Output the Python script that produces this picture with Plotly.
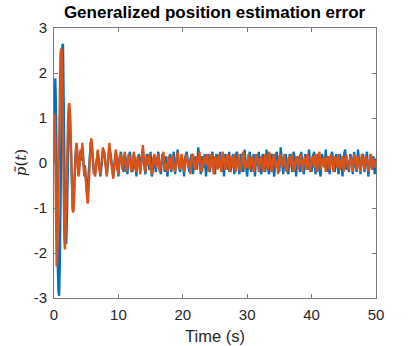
import numpy as np
import plotly.graph_objects as go

# sample times: fine grid for the transient, coarser for the steady noise
t_early = np.round(np.arange(0, 6.01, 0.1), 1)
t_late = np.round(np.arange(6.2, 50.01, 0.2), 1)

blue_early = [
    0.1, 1.4, 1.88, 1.3, -0.2, -1.5, -2.4, -2.85, -2.95, -2.3,
    -0.8, 0.9, 2.2, 2.6, 2.65, 1.8, 0.3, -1.0, -1.7, -1.8,
    -1.3, -0.4, 0.5, 1.0, 1.2, 1.05, 0.5, -0.2, -0.7, -1.0,
    -1.05, -0.8, -0.3, 0.1, 0.3, 0.4, 0.25, -0.05, -0.25, -0.15,
    0.15, 0.25, 0.05, 0.2, 0.35, 0.15, -0.15, -0.25, -0.05, -0.25,
    -0.5, -0.65, -0.6, -0.4, -0.1, 0.15, 0.35, 0.45, 0.5, 0.3,
    0.05,
]
orange_early = [
    0.0, 1.1, 0.3, -1.4, -2.3, -2.2, -1.3, 0.0, 1.2, 2.0,
    2.4, 2.55, 2.5, 1.6, 0.2, -1.0, -1.7, -1.92, -1.6, -0.8,
    0.1, 0.7, 1.1, 1.3, 1.33, 1.0, 0.4, -0.3, -0.8, -1.05,
    -1.1, -0.9, -0.4, 0.1, 0.35, 0.45, 0.3, -0.1, -0.3, -0.2,
    0.1, 0.3, 0.1, 0.25, 0.45, 0.2, -0.2, -0.3, -0.1, -0.3,
    -0.55, -0.8, -0.9, -0.85, -0.6, -0.2, 0.15, 0.45, 0.55, 0.4,
    0.1,
]

blue_late = [
    -0.25, -0.2, 0.05, 0.25, 0.0, -0.3, -0.05, 0.3, 0.25, -0.1,
    -0.25, 0.0, 0.35, 0.2, -0.15, -0.3, -0.05, 0.25, 0.05, -0.3,
    0.1, 0.25, -0.05, -0.2, 0.2, 0.05, -0.25, 0.15, 0.25, -0.1,
    -0.2, 0.2, 0.05, -0.3, 0.1, 0.2, -0.15, 0.05, 0.3, -0.05,
    -0.25, 0.2, 0.1, -0.15, 0.25, -0.3, 0.0, 0.15, -0.2, 0.1,
    0.25, -0.1, -0.25, 0.2, 0.1, -0.2, 0.15, -0.3, 0.05, 0.2,
    -0.2, 0.1, 0.25, -0.25, 0.0, 0.3, -0.1, -0.2, 0.15, 0.05,
    -0.3, 0.15, 0.25, -0.05, -0.2, 0.1, 0.2, -0.25, 0.05, 0.15,
    -0.15, 0.35, 0.05, -0.25, 0.15, -0.1, 0.2, -0.3, 0.1, 0.2,
    -0.2, 0.05, 0.25, -0.15, -0.25, 0.2, 0.1, -0.1, 0.25, -0.2,
    0.1, -0.3, 0.2, 0.0, -0.15, 0.25, -0.2, 0.05, 0.2, -0.25,
    0.15, 0.25, -0.1, -0.25, 0.2, 0.05, -0.2, 0.3, -0.05, -0.3,
    0.1, 0.25, -0.2, 0.05, 0.2, -0.3, 0.15, -0.05, 0.25, -0.15,
    -0.25, 0.2, 0.05, -0.2, 0.3, -0.1, -0.25, 0.15, 0.2, -0.05,
    -0.3, 0.15, 0.25, -0.1, -0.2, 0.35, 0.0, -0.25, 0.1, 0.2,
    -0.15, -0.25, 0.2, 0.05, -0.2, 0.25, 0.1, -0.3, 0.15, 0.05,
    -0.2, 0.25, -0.05, -0.25, 0.2, 0.1, -0.15, 0.3, -0.1, -0.2,
    0.15, 0.25, -0.25, 0.05, 0.2, -0.15, -0.3, 0.2, 0.05, -0.1,
    0.3, -0.2, 0.1, -0.25, 0.15, 0.25, -0.1, -0.2, 0.2, 0.0,
    -0.25, 0.2, 0.05, -0.3, 0.15, 0.3, -0.15, 0.05, -0.2, 0.2,
    0.1, -0.25, 0.25, -0.05, -0.2, 0.3, 0.05, -0.25, 0.15, 0.2,
    -0.2, 0.1, 0.25, -0.3, 0.0, 0.2, -0.15, 0.15, -0.25, 0.1,
]
orange_late = [
    -0.2, -0.3, 0.1, 0.3, -0.1, -0.25, 0.05, 0.35, 0.2, -0.15,
    -0.3, 0.1, 0.45, 0.1, -0.2, -0.35, 0.05, 0.3, -0.1, -0.25,
    0.15, 0.2, -0.15, 0.05, 0.25, -0.2, -0.1, 0.2, 0.05, -0.2,
    0.1, 0.25, -0.1, -0.2, 0.15, 0.0, -0.25, 0.1, 0.4, 0.05,
    -0.2, 0.15, -0.05, 0.2, -0.15, -0.25, 0.1, 0.2, -0.1, 0.05,
    0.2, -0.2, -0.05, 0.15, 0.25, -0.15, 0.0, -0.2, 0.15, 0.1,
    -0.15, 0.2, -0.1, -0.2, 0.1, 0.25, -0.05, -0.15, 0.2, 0.0,
    -0.2, 0.1, 0.2, -0.1, 0.05, -0.25, 0.15, 0.2, -0.1, -0.15,
    0.15, 0.0, 0.25, -0.15, -0.2, 0.1, 0.15, -0.05, 0.2, -0.2,
    -0.1, 0.2, 0.05, -0.25, 0.15, 0.1, -0.15, 0.2, -0.05, -0.2,
    0.25, 0.0, -0.15, 0.1, 0.2, -0.2, -0.05, 0.15, -0.1, 0.2,
    -0.2, 0.05, 0.2, -0.1, -0.2, 0.15, 0.25, -0.15, 0.05, -0.1,
    0.2, -0.15, 0.1, 0.15, -0.2, -0.05, 0.2, 0.1, -0.2, 0.05,
    0.15, -0.1, -0.2, 0.2, 0.05, -0.15, 0.25, -0.05, -0.2, 0.1,
    0.2, -0.1, 0.05, -0.25, 0.15, 0.2, -0.1, 0.0, 0.2, -0.15,
    -0.2, 0.1, 0.15, -0.05, 0.2, -0.2, -0.1, 0.15, 0.05, -0.15,
    0.2, 0.1, -0.2, 0.05, 0.15, -0.15, 0.2, -0.05, -0.2, 0.1,
    0.15, -0.1, 0.2, -0.2, 0.0, 0.25, -0.15, 0.1, -0.05, 0.15,
    -0.2, 0.1, 0.15, -0.15, 0.2, -0.05, -0.2, 0.15, 0.1, -0.1,
    0.2, -0.15, 0.05, 0.15, -0.2, 0.1, 0.2, -0.1, -0.15, 0.15,
    0.05, -0.2, 0.2, 0.1, -0.15, 0.15, -0.05, -0.2, 0.2, 0.0,
    -0.15, 0.15, 0.1, -0.2, 0.05, 0.2, -0.15, 0.1, -0.1, 0.05,
]

x_ticks = [0, 10, 20, 30, 40, 50]
y_ticks = [-3, -2, -1, 0, 1, 2, 3]
y_tick_text = ["-3", "-2", "-1", "0", "1", "2", "3"]

t = np.concatenate([t_early, t_late])
blue = blue_early + blue_late
orange = orange_early + orange_late

fig = go.Figure()
fig.add_trace(go.Scatter(x=t, y=blue, mode="lines",
                         line=dict(color="#0072BD", width=2.3)))
fig.add_trace(go.Scatter(x=t, y=orange, mode="lines",
                         line=dict(color="#D95319", width=2.3)))

sans = "Liberation Sans, Arial"
axis_style = dict(
    showline=True, mirror="ticks", linecolor="#7a7a7a", linewidth=1,
    ticks="inside", ticklen=4, tickcolor="#7a7a7a",
    showgrid=False, zeroline=False, automargin=False,
    ticklabelstandoff=3,
    tickfont=dict(family=sans, size=15, color="#262626"),
)

fig.update_layout(
    width=415, height=346,
    margin=dict(l=54, r=39, t=28, b=48),
    paper_bgcolor="white", plot_bgcolor="white",
    showlegend=False,
    title=dict(text="<b>Generalized position estimation error</b>",
               x=0.517, xanchor="center", y=0.964, yanchor="middle",
               font=dict(family=sans, size=17, color="black")),
)
fig.update_xaxes(range=[0, 50], tickvals=x_ticks, **axis_style)
fig.update_yaxes(range=[-3, 3], tickvals=y_ticks, ticktext=y_tick_text, **axis_style)

# axis labels placed as annotations so the plot box stays where it is
fig.add_annotation(text="Time (s)", xref="paper", yref="paper",
                   x=0.5, y=-0.14, xanchor="center", yanchor="middle",
                   showarrow=False,
                   font=dict(family=sans, size=16.5, color="#262626"))
fig.add_annotation(text="<i>p\u0303</i>(<i>t</i>)", xref="paper", yref="paper",
                   x=-0.102, y=0.5, xanchor="center", yanchor="middle",
                   textangle=-90, showarrow=False,
                   font=dict(family="DejaVu Serif", size=15, color="#262626"))

# drop the browser's default page margin so the figure sits at 0,0
fig.write_html("out.html", config={"displayModeBar": False},
               post_script="document.body.style.margin='0';")
